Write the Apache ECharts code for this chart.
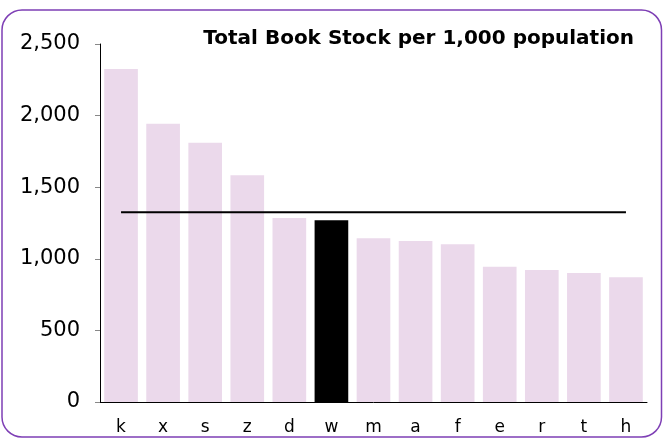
<!DOCTYPE html>
<html>
<head>
<meta charset="utf-8">
<script src="https://cdn.jsdelivr.net/npm/echarts@6/dist/echarts.min.js"></script>
<style>html,body{margin:0;padding:0;background:#fff}#c{width:663px;height:438px}</style>
</head>
<body>
<div id="c"></div>
<script>
const categories = ['k','x','s','z','d','w','m','a','f','e','r','t','h'];
const stock = [2325, 1943, 1811, 1583, 1285, 1269, 1143, 1124, 1101, 945, 922, 901, 871];
const highlight = 'w';
const averageValue = 1325;
const averageLine = categories.map(() => averageValue);
const yTicks = [0, 500, 1000, 1500, 2000, 2500];

const chart = echarts.init(document.getElementById('c'), null, {renderer: 'canvas'});
const font = 'DejaVu Sans, Verdana, sans-serif';
chart.setOption({
  animation: false,
  backgroundColor: '#fff',
  title: {
    text: 'Total Book Stock per 1,000 population',
    right: 24, top: 24,
    textStyle: {fontFamily: font, fontWeight: 'bold', fontSize: 20, color: '#000'}
  },
  graphic: [{
    type: 'rect', shape: {x: 2, y: 10, width: 659.5, height: 427, r: 20},
    style: {fill: 'none', stroke: '#7e3fb5', lineWidth: 1.5}, silent: true, z: 100
  }],
  grid: {left: 100, right: 16, top: 44, bottom: 36, containLabel: false},
  xAxis: {
    type: 'category', data: categories,
    axisLine: {lineStyle: {color: '#000', width: 1}},
    axisTick: {show: false},
    axisLabel: {fontFamily: font, fontSize: 17, color: '#000', margin: 17}
  },
  yAxis: {
    type: 'value', min: yTicks[0], max: yTicks[yTicks.length - 1], interval: 500,
    axisLine: {show: true, lineStyle: {color: '#000', width: 1}},
    axisTick: {show: true, length: 5, lineStyle: {color: '#888'}},
    splitLine: {show: false},
    axisLabel: {
      fontFamily: font, fontSize: 21, color: '#000', margin: 20,
      formatter: v => v.toLocaleString('en-US')
    }
  },
  series: [{
    type: 'bar',
    barCategoryGap: '20%',
    data: stock.map((v, i) => ({
      value: v,
      itemStyle: {color: categories[i] === highlight ? '#000' : '#ebd9eb'}
    }))
  }, {
    type: 'line', data: averageLine, symbol: 'none',
    lineStyle: {color: '#000', width: 2}, z: 5
  }]
});
</script>
</body>
</html>
